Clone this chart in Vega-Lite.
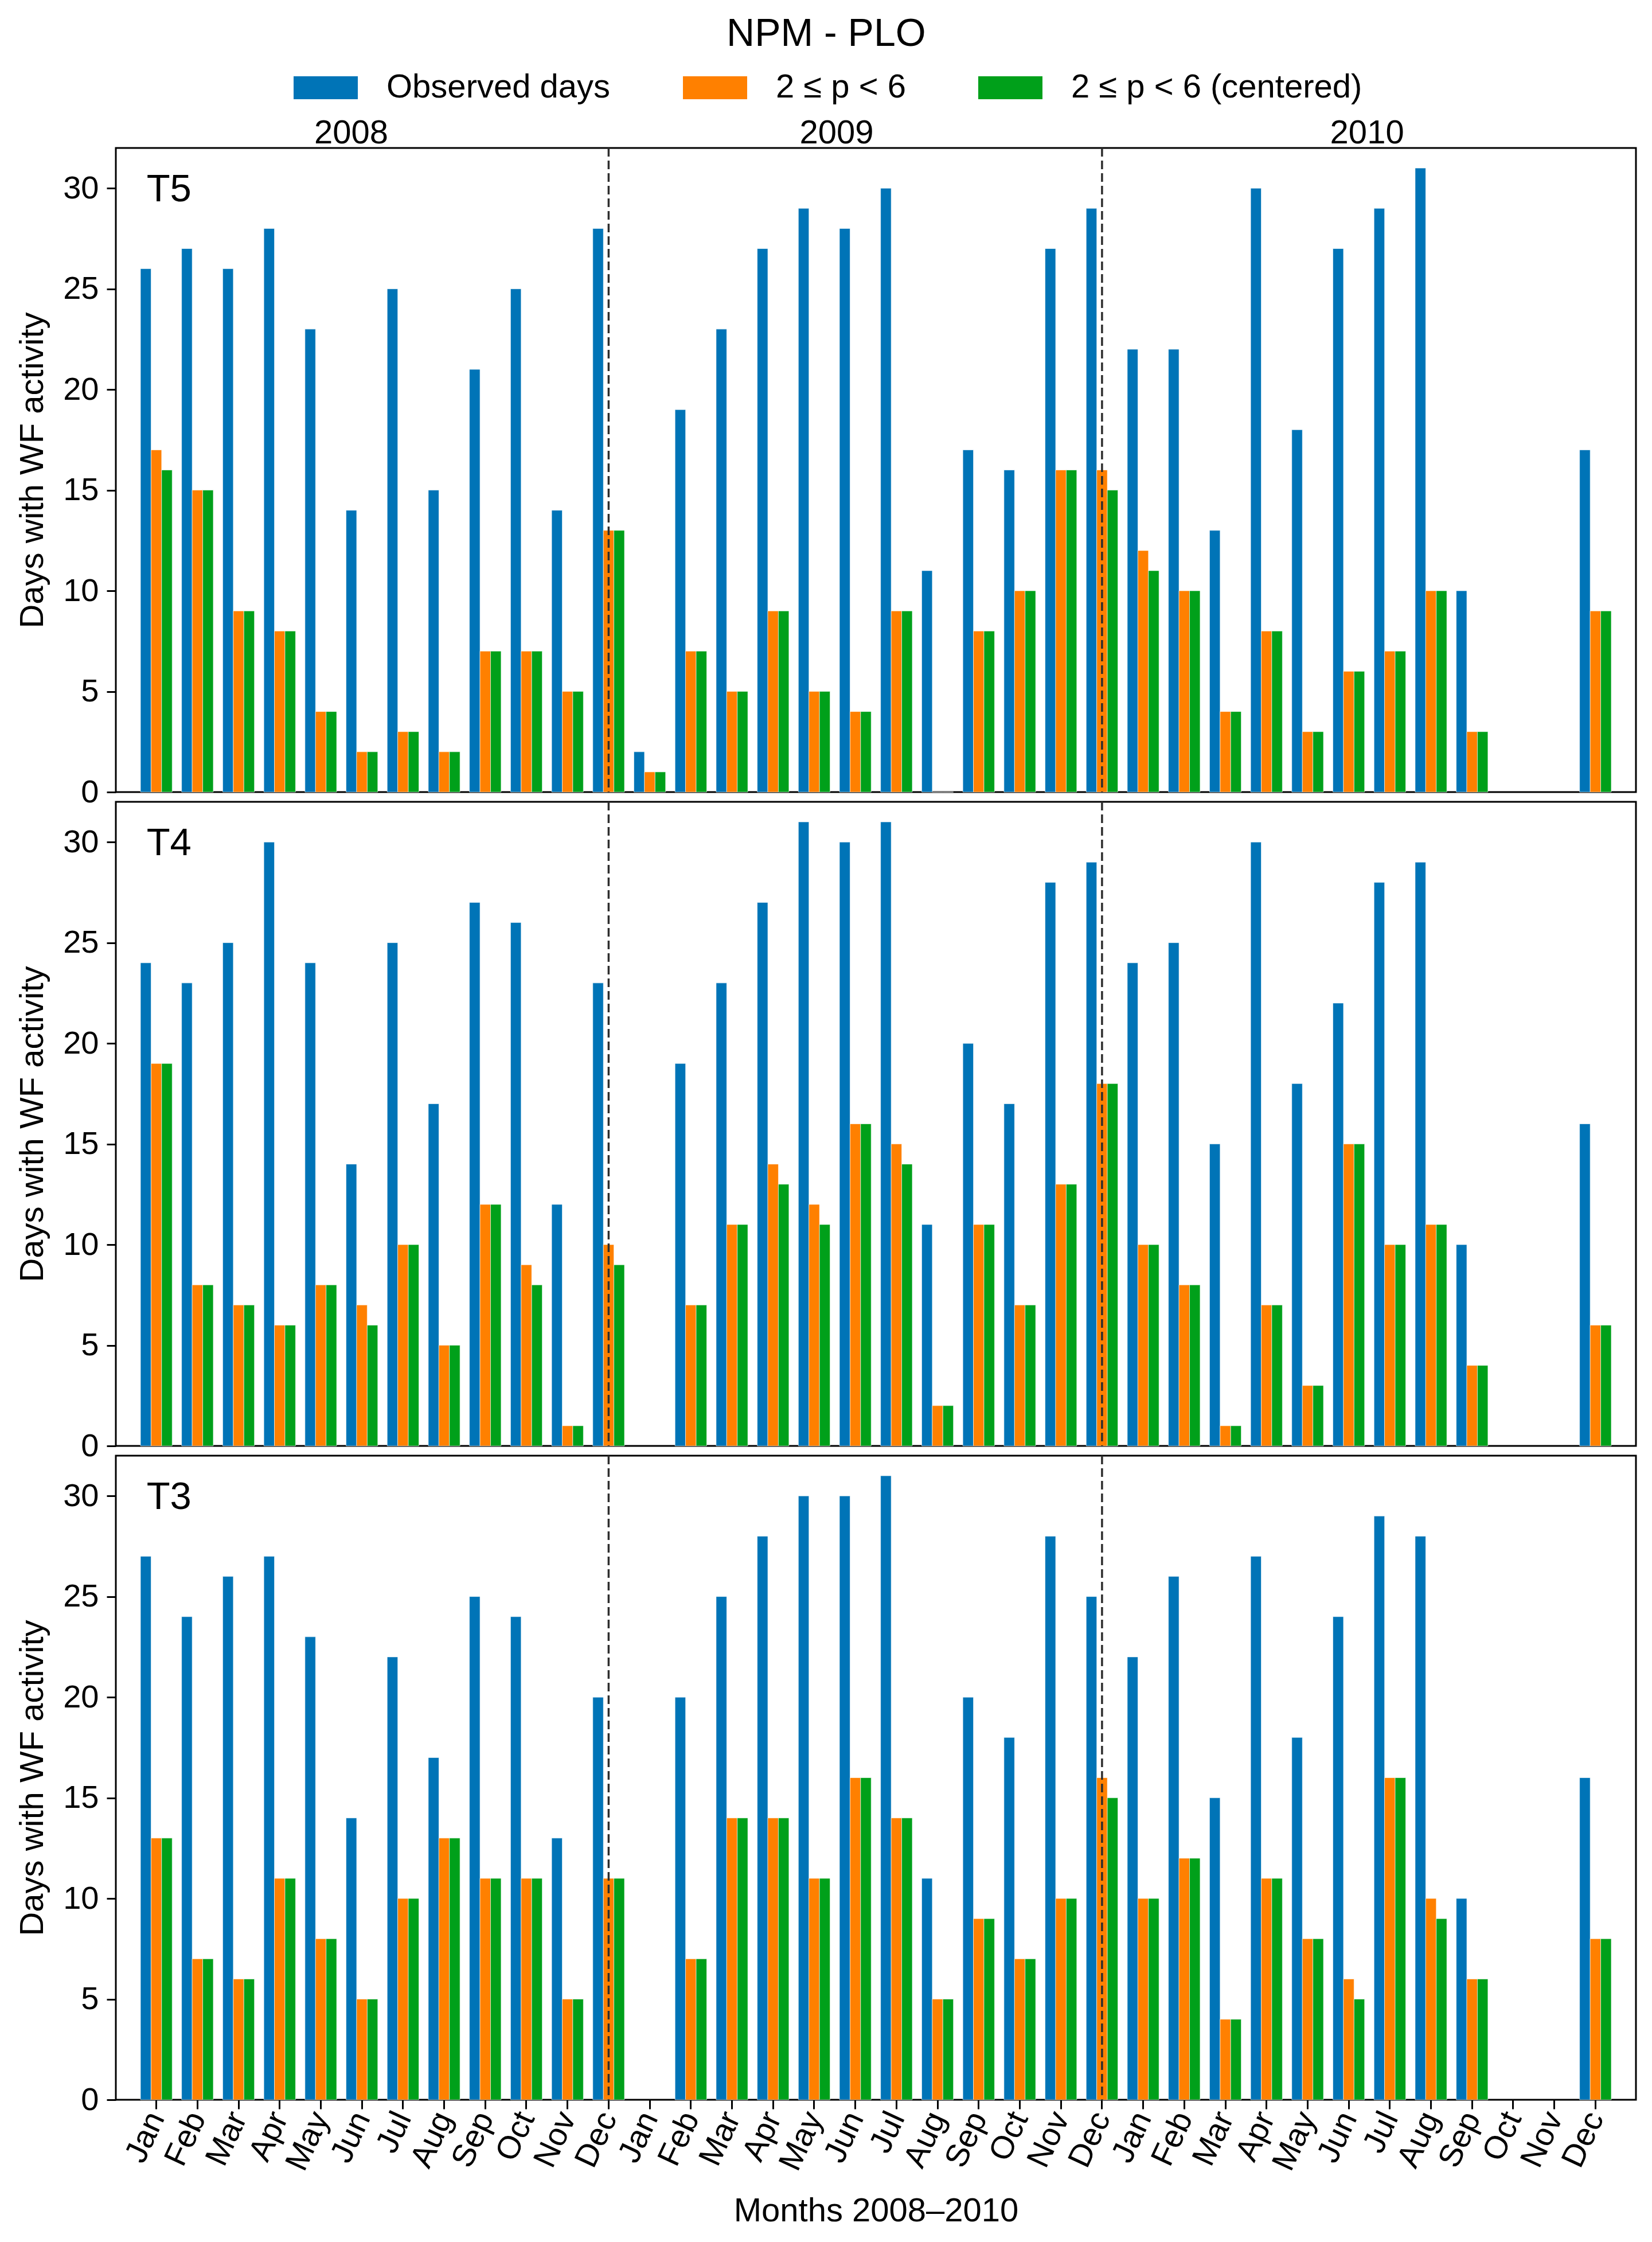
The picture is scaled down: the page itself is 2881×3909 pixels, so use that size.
{
  "$schema": "https://vega.github.io/schema/vega-lite/v6.json",
  "background": "white",
  "padding": {"left": 27, "right": 29, "top": 26, "bottom": 30},
  "title": {"text": "NPM - PLO", "fontSize": 68, "fontWeight": "normal", "anchor": "middle", "frame": "bounds", "offset": 3, "color": "black"},
  "spacing": 17,
  "bounds": "flush",
  "datasets": {
    "bars": [
      {"panel":"T5","month":"Jan 2008","Observed days":26,"2 ≤ p < 6":17,"2 ≤ p < 6 (centered)":16},
      {"panel":"T5","month":"Feb 2008","Observed days":27,"2 ≤ p < 6":15,"2 ≤ p < 6 (centered)":15},
      {"panel":"T5","month":"Mar 2008","Observed days":26,"2 ≤ p < 6":9,"2 ≤ p < 6 (centered)":9},
      {"panel":"T5","month":"Apr 2008","Observed days":28,"2 ≤ p < 6":8,"2 ≤ p < 6 (centered)":8},
      {"panel":"T5","month":"May 2008","Observed days":23,"2 ≤ p < 6":4,"2 ≤ p < 6 (centered)":4},
      {"panel":"T5","month":"Jun 2008","Observed days":14,"2 ≤ p < 6":2,"2 ≤ p < 6 (centered)":2},
      {"panel":"T5","month":"Jul 2008","Observed days":25,"2 ≤ p < 6":3,"2 ≤ p < 6 (centered)":3},
      {"panel":"T5","month":"Aug 2008","Observed days":15,"2 ≤ p < 6":2,"2 ≤ p < 6 (centered)":2},
      {"panel":"T5","month":"Sep 2008","Observed days":21,"2 ≤ p < 6":7,"2 ≤ p < 6 (centered)":7},
      {"panel":"T5","month":"Oct 2008","Observed days":25,"2 ≤ p < 6":7,"2 ≤ p < 6 (centered)":7},
      {"panel":"T5","month":"Nov 2008","Observed days":14,"2 ≤ p < 6":5,"2 ≤ p < 6 (centered)":5},
      {"panel":"T5","month":"Dec 2008","Observed days":28,"2 ≤ p < 6":13,"2 ≤ p < 6 (centered)":13},
      {"panel":"T5","month":"Jan 2009","Observed days":2,"2 ≤ p < 6":1,"2 ≤ p < 6 (centered)":1},
      {"panel":"T5","month":"Feb 2009","Observed days":19,"2 ≤ p < 6":7,"2 ≤ p < 6 (centered)":7},
      {"panel":"T5","month":"Mar 2009","Observed days":23,"2 ≤ p < 6":5,"2 ≤ p < 6 (centered)":5},
      {"panel":"T5","month":"Apr 2009","Observed days":27,"2 ≤ p < 6":9,"2 ≤ p < 6 (centered)":9},
      {"panel":"T5","month":"May 2009","Observed days":29,"2 ≤ p < 6":5,"2 ≤ p < 6 (centered)":5},
      {"panel":"T5","month":"Jun 2009","Observed days":28,"2 ≤ p < 6":4,"2 ≤ p < 6 (centered)":4},
      {"panel":"T5","month":"Jul 2009","Observed days":30,"2 ≤ p < 6":9,"2 ≤ p < 6 (centered)":9},
      {"panel":"T5","month":"Aug 2009","Observed days":11,"2 ≤ p < 6":0,"2 ≤ p < 6 (centered)":0},
      {"panel":"T5","month":"Sep 2009","Observed days":17,"2 ≤ p < 6":8,"2 ≤ p < 6 (centered)":8},
      {"panel":"T5","month":"Oct 2009","Observed days":16,"2 ≤ p < 6":10,"2 ≤ p < 6 (centered)":10},
      {"panel":"T5","month":"Nov 2009","Observed days":27,"2 ≤ p < 6":16,"2 ≤ p < 6 (centered)":16},
      {"panel":"T5","month":"Dec 2009","Observed days":29,"2 ≤ p < 6":16,"2 ≤ p < 6 (centered)":15},
      {"panel":"T5","month":"Jan 2010","Observed days":22,"2 ≤ p < 6":12,"2 ≤ p < 6 (centered)":11},
      {"panel":"T5","month":"Feb 2010","Observed days":22,"2 ≤ p < 6":10,"2 ≤ p < 6 (centered)":10},
      {"panel":"T5","month":"Mar 2010","Observed days":13,"2 ≤ p < 6":4,"2 ≤ p < 6 (centered)":4},
      {"panel":"T5","month":"Apr 2010","Observed days":30,"2 ≤ p < 6":8,"2 ≤ p < 6 (centered)":8},
      {"panel":"T5","month":"May 2010","Observed days":18,"2 ≤ p < 6":3,"2 ≤ p < 6 (centered)":3},
      {"panel":"T5","month":"Jun 2010","Observed days":27,"2 ≤ p < 6":6,"2 ≤ p < 6 (centered)":6},
      {"panel":"T5","month":"Jul 2010","Observed days":29,"2 ≤ p < 6":7,"2 ≤ p < 6 (centered)":7},
      {"panel":"T5","month":"Aug 2010","Observed days":31,"2 ≤ p < 6":10,"2 ≤ p < 6 (centered)":10},
      {"panel":"T5","month":"Sep 2010","Observed days":10,"2 ≤ p < 6":3,"2 ≤ p < 6 (centered)":3},
      {"panel":"T5","month":"Dec 2010","Observed days":17,"2 ≤ p < 6":9,"2 ≤ p < 6 (centered)":9},
      {"panel":"T4","month":"Jan 2008","Observed days":24,"2 ≤ p < 6":19,"2 ≤ p < 6 (centered)":19},
      {"panel":"T4","month":"Feb 2008","Observed days":23,"2 ≤ p < 6":8,"2 ≤ p < 6 (centered)":8},
      {"panel":"T4","month":"Mar 2008","Observed days":25,"2 ≤ p < 6":7,"2 ≤ p < 6 (centered)":7},
      {"panel":"T4","month":"Apr 2008","Observed days":30,"2 ≤ p < 6":6,"2 ≤ p < 6 (centered)":6},
      {"panel":"T4","month":"May 2008","Observed days":24,"2 ≤ p < 6":8,"2 ≤ p < 6 (centered)":8},
      {"panel":"T4","month":"Jun 2008","Observed days":14,"2 ≤ p < 6":7,"2 ≤ p < 6 (centered)":6},
      {"panel":"T4","month":"Jul 2008","Observed days":25,"2 ≤ p < 6":10,"2 ≤ p < 6 (centered)":10},
      {"panel":"T4","month":"Aug 2008","Observed days":17,"2 ≤ p < 6":5,"2 ≤ p < 6 (centered)":5},
      {"panel":"T4","month":"Sep 2008","Observed days":27,"2 ≤ p < 6":12,"2 ≤ p < 6 (centered)":12},
      {"panel":"T4","month":"Oct 2008","Observed days":26,"2 ≤ p < 6":9,"2 ≤ p < 6 (centered)":8},
      {"panel":"T4","month":"Nov 2008","Observed days":12,"2 ≤ p < 6":1,"2 ≤ p < 6 (centered)":1},
      {"panel":"T4","month":"Dec 2008","Observed days":23,"2 ≤ p < 6":10,"2 ≤ p < 6 (centered)":9},
      {"panel":"T4","month":"Feb 2009","Observed days":19,"2 ≤ p < 6":7,"2 ≤ p < 6 (centered)":7},
      {"panel":"T4","month":"Mar 2009","Observed days":23,"2 ≤ p < 6":11,"2 ≤ p < 6 (centered)":11},
      {"panel":"T4","month":"Apr 2009","Observed days":27,"2 ≤ p < 6":14,"2 ≤ p < 6 (centered)":13},
      {"panel":"T4","month":"May 2009","Observed days":31,"2 ≤ p < 6":12,"2 ≤ p < 6 (centered)":11},
      {"panel":"T4","month":"Jun 2009","Observed days":30,"2 ≤ p < 6":16,"2 ≤ p < 6 (centered)":16},
      {"panel":"T4","month":"Jul 2009","Observed days":31,"2 ≤ p < 6":15,"2 ≤ p < 6 (centered)":14},
      {"panel":"T4","month":"Aug 2009","Observed days":11,"2 ≤ p < 6":2,"2 ≤ p < 6 (centered)":2},
      {"panel":"T4","month":"Sep 2009","Observed days":20,"2 ≤ p < 6":11,"2 ≤ p < 6 (centered)":11},
      {"panel":"T4","month":"Oct 2009","Observed days":17,"2 ≤ p < 6":7,"2 ≤ p < 6 (centered)":7},
      {"panel":"T4","month":"Nov 2009","Observed days":28,"2 ≤ p < 6":13,"2 ≤ p < 6 (centered)":13},
      {"panel":"T4","month":"Dec 2009","Observed days":29,"2 ≤ p < 6":18,"2 ≤ p < 6 (centered)":18},
      {"panel":"T4","month":"Jan 2010","Observed days":24,"2 ≤ p < 6":10,"2 ≤ p < 6 (centered)":10},
      {"panel":"T4","month":"Feb 2010","Observed days":25,"2 ≤ p < 6":8,"2 ≤ p < 6 (centered)":8},
      {"panel":"T4","month":"Mar 2010","Observed days":15,"2 ≤ p < 6":1,"2 ≤ p < 6 (centered)":1},
      {"panel":"T4","month":"Apr 2010","Observed days":30,"2 ≤ p < 6":7,"2 ≤ p < 6 (centered)":7},
      {"panel":"T4","month":"May 2010","Observed days":18,"2 ≤ p < 6":3,"2 ≤ p < 6 (centered)":3},
      {"panel":"T4","month":"Jun 2010","Observed days":22,"2 ≤ p < 6":15,"2 ≤ p < 6 (centered)":15},
      {"panel":"T4","month":"Jul 2010","Observed days":28,"2 ≤ p < 6":10,"2 ≤ p < 6 (centered)":10},
      {"panel":"T4","month":"Aug 2010","Observed days":29,"2 ≤ p < 6":11,"2 ≤ p < 6 (centered)":11},
      {"panel":"T4","month":"Sep 2010","Observed days":10,"2 ≤ p < 6":4,"2 ≤ p < 6 (centered)":4},
      {"panel":"T4","month":"Dec 2010","Observed days":16,"2 ≤ p < 6":6,"2 ≤ p < 6 (centered)":6},
      {"panel":"T3","month":"Jan 2008","Observed days":27,"2 ≤ p < 6":13,"2 ≤ p < 6 (centered)":13},
      {"panel":"T3","month":"Feb 2008","Observed days":24,"2 ≤ p < 6":7,"2 ≤ p < 6 (centered)":7},
      {"panel":"T3","month":"Mar 2008","Observed days":26,"2 ≤ p < 6":6,"2 ≤ p < 6 (centered)":6},
      {"panel":"T3","month":"Apr 2008","Observed days":27,"2 ≤ p < 6":11,"2 ≤ p < 6 (centered)":11},
      {"panel":"T3","month":"May 2008","Observed days":23,"2 ≤ p < 6":8,"2 ≤ p < 6 (centered)":8},
      {"panel":"T3","month":"Jun 2008","Observed days":14,"2 ≤ p < 6":5,"2 ≤ p < 6 (centered)":5},
      {"panel":"T3","month":"Jul 2008","Observed days":22,"2 ≤ p < 6":10,"2 ≤ p < 6 (centered)":10},
      {"panel":"T3","month":"Aug 2008","Observed days":17,"2 ≤ p < 6":13,"2 ≤ p < 6 (centered)":13},
      {"panel":"T3","month":"Sep 2008","Observed days":25,"2 ≤ p < 6":11,"2 ≤ p < 6 (centered)":11},
      {"panel":"T3","month":"Oct 2008","Observed days":24,"2 ≤ p < 6":11,"2 ≤ p < 6 (centered)":11},
      {"panel":"T3","month":"Nov 2008","Observed days":13,"2 ≤ p < 6":5,"2 ≤ p < 6 (centered)":5},
      {"panel":"T3","month":"Dec 2008","Observed days":20,"2 ≤ p < 6":11,"2 ≤ p < 6 (centered)":11},
      {"panel":"T3","month":"Feb 2009","Observed days":20,"2 ≤ p < 6":7,"2 ≤ p < 6 (centered)":7},
      {"panel":"T3","month":"Mar 2009","Observed days":25,"2 ≤ p < 6":14,"2 ≤ p < 6 (centered)":14},
      {"panel":"T3","month":"Apr 2009","Observed days":28,"2 ≤ p < 6":14,"2 ≤ p < 6 (centered)":14},
      {"panel":"T3","month":"May 2009","Observed days":30,"2 ≤ p < 6":11,"2 ≤ p < 6 (centered)":11},
      {"panel":"T3","month":"Jun 2009","Observed days":30,"2 ≤ p < 6":16,"2 ≤ p < 6 (centered)":16},
      {"panel":"T3","month":"Jul 2009","Observed days":31,"2 ≤ p < 6":14,"2 ≤ p < 6 (centered)":14},
      {"panel":"T3","month":"Aug 2009","Observed days":11,"2 ≤ p < 6":5,"2 ≤ p < 6 (centered)":5},
      {"panel":"T3","month":"Sep 2009","Observed days":20,"2 ≤ p < 6":9,"2 ≤ p < 6 (centered)":9},
      {"panel":"T3","month":"Oct 2009","Observed days":18,"2 ≤ p < 6":7,"2 ≤ p < 6 (centered)":7},
      {"panel":"T3","month":"Nov 2009","Observed days":28,"2 ≤ p < 6":10,"2 ≤ p < 6 (centered)":10},
      {"panel":"T3","month":"Dec 2009","Observed days":25,"2 ≤ p < 6":16,"2 ≤ p < 6 (centered)":15},
      {"panel":"T3","month":"Jan 2010","Observed days":22,"2 ≤ p < 6":10,"2 ≤ p < 6 (centered)":10},
      {"panel":"T3","month":"Feb 2010","Observed days":26,"2 ≤ p < 6":12,"2 ≤ p < 6 (centered)":12},
      {"panel":"T3","month":"Mar 2010","Observed days":15,"2 ≤ p < 6":4,"2 ≤ p < 6 (centered)":4},
      {"panel":"T3","month":"Apr 2010","Observed days":27,"2 ≤ p < 6":11,"2 ≤ p < 6 (centered)":11},
      {"panel":"T3","month":"May 2010","Observed days":18,"2 ≤ p < 6":8,"2 ≤ p < 6 (centered)":8},
      {"panel":"T3","month":"Jun 2010","Observed days":24,"2 ≤ p < 6":6,"2 ≤ p < 6 (centered)":5},
      {"panel":"T3","month":"Jul 2010","Observed days":29,"2 ≤ p < 6":16,"2 ≤ p < 6 (centered)":16},
      {"panel":"T3","month":"Aug 2010","Observed days":28,"2 ≤ p < 6":10,"2 ≤ p < 6 (centered)":9},
      {"panel":"T3","month":"Sep 2010","Observed days":10,"2 ≤ p < 6":6,"2 ≤ p < 6 (centered)":6},
      {"panel":"T3","month":"Dec 2010","Observed days":16,"2 ≤ p < 6":8,"2 ≤ p < 6 (centered)":8}
    ],
    "decs": [{"month": "Dec 2008"}, {"month": "Dec 2009"}]
  },
  "vconcat": [
    {
      "width": 2651, "height": 1123,
      "encoding": {"x": {"field": "month", "type": "ordinal", "scale": {"domain": ["Jan 2008","Feb 2008","Mar 2008","Apr 2008","May 2008","Jun 2008","Jul 2008","Aug 2008","Sep 2008","Oct 2008","Nov 2008","Dec 2008","Jan 2009","Feb 2009","Mar 2009","Apr 2009","May 2009","Jun 2009","Jul 2009","Aug 2009","Sep 2009","Oct 2009","Nov 2009","Dec 2009","Jan 2010","Feb 2010","Mar 2010","Apr 2010","May 2010","Jun 2010","Jul 2010","Aug 2010","Sep 2010","Oct 2010","Nov 2010","Dec 2010"], "paddingInner": 0.23, "paddingOuter": 0.6}, "axis": null}},
      "layer": [
        {
          "data": {"name": "bars"},
          "transform": [{"filter": "datum.panel === 'T5'"}, {"fold": ["Observed days", "2 ≤ p < 6", "2 ≤ p < 6 (centered)"], "as": ["series", "days"]}],
          "mark": {"type": "bar", "stroke": "white", "strokeWidth": 1, "strokeOpacity": 0.6},
          "encoding": {
            "xOffset": {"field": "series", "type": "nominal", "scale": {"domain": ["Observed days", "2 ≤ p < 6", "2 ≤ p < 6 (centered)"], "paddingInner": 0, "paddingOuter": 0}},
            "y": {"field": "days", "type": "quantitative", "scale": {"domain": [0, 32], "nice": false}, "axis": {"values": [0,5,10,15,20,25,30], "title": "Days with WF activity"}},
            "color": {"field": "series", "type": "nominal", "scale": {"domain": ["Observed days", "2 ≤ p < 6", "2 ≤ p < 6 (centered)"], "range": ["#0074B7", "#FF8000", "#00A01A"]}, "legend": {"orient": "none", "legendX": 310, "legendY": -161, "direction": "horizontal", "title": null}}
          }
        },
        {
          "data": {"name": "decs"},
          "mark": {"type": "rule", "strokeDash": [15, 7], "color": "#2e2e2e", "strokeWidth": 3.5},
          "encoding": {}
        },
        {
          "data": {"values": [{}]},
          "mark": {"type": "text", "fontSize": 67, "align": "left", "baseline": "alphabetic", "dx": -17, "color": "black"},
          "encoding": {"x": {"datum": "Jan 2008", "type": "ordinal", "axis": null}, "y": {"datum": 29.35, "type": "quantitative"}, "text": {"value": "T5"}}
        },
        {
          "data": {"values": [{}]},
          "mark": {"type": "text", "fontSize": 58, "align": "center", "baseline": "alphabetic", "dx": 53, "dy": -8, "color": "black"},
          "encoding": {"x": {"datum": "May 2008", "type": "ordinal", "axis": null}, "y": {"datum": 32, "type": "quantitative"}, "text": {"value": "2008"}}
        },
        {
          "data": {"values": [{}]},
          "mark": {"type": "text", "fontSize": 58, "align": "center", "baseline": "alphabetic", "dx": 39, "dy": -8, "color": "black"},
          "encoding": {"x": {"datum": "May 2009", "type": "ordinal", "axis": null}, "y": {"datum": 32, "type": "quantitative"}, "text": {"value": "2009"}}
        },
        {
          "data": {"values": [{}]},
          "mark": {"type": "text", "fontSize": 58, "align": "center", "baseline": "alphabetic", "dx": 32, "dy": -8, "color": "black"},
          "encoding": {"x": {"datum": "Jun 2010", "type": "ordinal", "axis": null}, "y": {"datum": 32, "type": "quantitative"}, "text": {"value": "2010"}}
        }
      ]
    },
    {
      "width": 2651, "height": 1123,
      "encoding": {"x": {"field": "month", "type": "ordinal", "scale": {"domain": ["Jan 2008","Feb 2008","Mar 2008","Apr 2008","May 2008","Jun 2008","Jul 2008","Aug 2008","Sep 2008","Oct 2008","Nov 2008","Dec 2008","Jan 2009","Feb 2009","Mar 2009","Apr 2009","May 2009","Jun 2009","Jul 2009","Aug 2009","Sep 2009","Oct 2009","Nov 2009","Dec 2009","Jan 2010","Feb 2010","Mar 2010","Apr 2010","May 2010","Jun 2010","Jul 2010","Aug 2010","Sep 2010","Oct 2010","Nov 2010","Dec 2010"], "paddingInner": 0.23, "paddingOuter": 0.6}, "axis": null}},
      "layer": [
        {
          "data": {"name": "bars"},
          "transform": [{"filter": "datum.panel === 'T4'"}, {"fold": ["Observed days", "2 ≤ p < 6", "2 ≤ p < 6 (centered)"], "as": ["series", "days"]}],
          "mark": {"type": "bar", "stroke": "white", "strokeWidth": 1, "strokeOpacity": 0.6},
          "encoding": {
            "xOffset": {"field": "series", "type": "nominal", "scale": {"domain": ["Observed days", "2 ≤ p < 6", "2 ≤ p < 6 (centered)"], "paddingInner": 0, "paddingOuter": 0}},
            "y": {"field": "days", "type": "quantitative", "scale": {"domain": [0, 32], "nice": false}, "axis": {"values": [0,5,10,15,20,25,30], "title": "Days with WF activity"}},
            "color": {"field": "series", "type": "nominal", "scale": {"domain": ["Observed days", "2 ≤ p < 6", "2 ≤ p < 6 (centered)"], "range": ["#0074B7", "#FF8000", "#00A01A"]}, "legend": {"orient": "none", "legendX": 310, "legendY": -161, "direction": "horizontal", "title": null}}
          }
        },
        {
          "data": {"name": "decs"},
          "mark": {"type": "rule", "strokeDash": [15, 7], "color": "#2e2e2e", "strokeWidth": 3.5},
          "encoding": {}
        },
        {
          "data": {"values": [{}]},
          "mark": {"type": "text", "fontSize": 67, "align": "left", "baseline": "alphabetic", "dx": -17, "color": "black"},
          "encoding": {"x": {"datum": "Jan 2008", "type": "ordinal", "axis": null}, "y": {"datum": 29.35, "type": "quantitative"}, "text": {"value": "T4"}}
        }
      ]
    },
    {
      "width": 2651, "height": 1123,
      "encoding": {"x": {"field": "month", "type": "ordinal", "scale": {"domain": ["Jan 2008","Feb 2008","Mar 2008","Apr 2008","May 2008","Jun 2008","Jul 2008","Aug 2008","Sep 2008","Oct 2008","Nov 2008","Dec 2008","Jan 2009","Feb 2009","Mar 2009","Apr 2009","May 2009","Jun 2009","Jul 2009","Aug 2009","Sep 2009","Oct 2009","Nov 2009","Dec 2009","Jan 2010","Feb 2010","Mar 2010","Apr 2010","May 2010","Jun 2010","Jul 2010","Aug 2010","Sep 2010","Oct 2010","Nov 2010","Dec 2010"], "paddingInner": 0.23, "paddingOuter": 0.6}, "axis": {"title": "Months 2008–2010", "labelExpr": "split(datum.value, ' ')[0]", "labelAngle": -65, "labelAlign": "right", "labelBaseline": "middle", "labelPadding": 8, "titlePadding": 34, "labelOverlap": false}}},
      "layer": [
        {
          "data": {"name": "bars"},
          "transform": [{"filter": "datum.panel === 'T3'"}, {"fold": ["Observed days", "2 ≤ p < 6", "2 ≤ p < 6 (centered)"], "as": ["series", "days"]}],
          "mark": {"type": "bar", "stroke": "white", "strokeWidth": 1, "strokeOpacity": 0.6},
          "encoding": {
            "xOffset": {"field": "series", "type": "nominal", "scale": {"domain": ["Observed days", "2 ≤ p < 6", "2 ≤ p < 6 (centered)"], "paddingInner": 0, "paddingOuter": 0}},
            "y": {"field": "days", "type": "quantitative", "scale": {"domain": [0, 32], "nice": false}, "axis": {"values": [0,5,10,15,20,25,30], "title": "Days with WF activity"}},
            "color": {"field": "series", "type": "nominal", "scale": {"domain": ["Observed days", "2 ≤ p < 6", "2 ≤ p < 6 (centered)"], "range": ["#0074B7", "#FF8000", "#00A01A"]}, "legend": {"orient": "none", "legendX": 310, "legendY": -161, "direction": "horizontal", "title": null}}
          }
        },
        {
          "data": {"name": "decs"},
          "mark": {"type": "rule", "strokeDash": [15, 7], "color": "#2e2e2e", "strokeWidth": 3.5},
          "encoding": {}
        },
        {
          "data": {"values": [{}]},
          "mark": {"type": "text", "fontSize": 67, "align": "left", "baseline": "alphabetic", "dx": -17, "color": "black"},
          "encoding": {"x": {"datum": "Jan 2008", "type": "ordinal"}, "y": {"datum": 29.35, "type": "quantitative"}, "text": {"value": "T3"}}
        }
      ]
    }
  ],
  "config": {
    "font": "Liberation Sans",
    "view": {"stroke": "black", "strokeWidth": 3},
    "axis": {"labelFontSize": 56, "titleFontSize": 58, "titleFontWeight": "normal", "labelColor": "black", "titleColor": "black", "tickColor": "black", "tickSize": 16, "tickWidth": 3, "domain": false, "grid": false, "labelPadding": 14},
    "axisY": {"titlePadding": 23},
    "legend": {"labelFontSize": 58, "labelColor": "black", "labelLimit": 1000, "symbolType": "M-1,-0.357L1,-0.357L1,0.357L-1,0.357Z", "symbolSize": 12544, "symbolStrokeWidth": 0, "symbolOpacity": 1, "labelOffset": 50, "columnPadding": 126}
  }
}
